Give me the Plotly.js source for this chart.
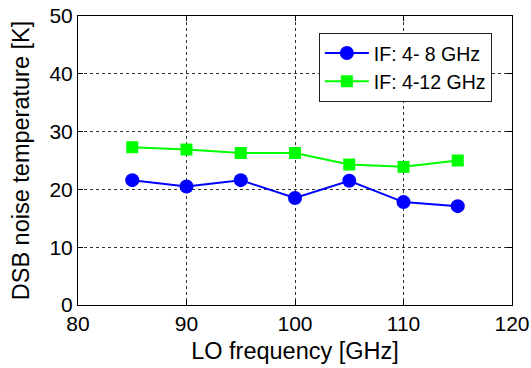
<!DOCTYPE html>
<html>
<head>
<meta charset="utf-8">
<script src="https://cdn.plot.ly/plotly-3.0.1.min.js"></script>
<style>html,body{margin:0;padding:0;background:#fff;}#chart{width:531px;height:368px;}</style>
</head>
<body>
<div id="chart"></div>
<script>
const loFreq = [85, 90, 95, 100, 105, 110, 115];
const tIF4to8 = [21.6, 20.5, 21.6, 18.5, 21.5, 17.8, 17.1];
const tIF4to12 = [27.3, 26.9, 26.3, 26.3, 24.3, 23.9, 25.0];
const seriesNames = ['IF: 4- 8 GHz', 'IF: 4-12 GHz'];
const xTicks = [80, 90, 100, 110, 120];
const yTicks = [0, 10, 20, 30, 40, 50];

const font = 'Liberation Sans, Arial, sans-serif';
const traces = [
  {x: loFreq, y: tIF4to8, name: seriesNames[0], type: 'scatter', mode: 'lines+markers',
   line: {color: '#0000ff', width: 2}, marker: {symbol: 'circle', size: 14, color: '#0000ff'}},
  {x: loFreq, y: tIF4to12, name: seriesNames[1], type: 'scatter', mode: 'lines+markers',
   line: {color: '#00ff00', width: 2}, marker: {symbol: 'square', size: 12, color: '#00ff00'}}
];
const axisCommon = {
  showline: true, linecolor: '#000', linewidth: 1, mirror: 'ticks',
  ticks: 'inside', ticklen: 5, tickcolor: '#000',
  showgrid: true, gridcolor: '#333', griddash: 'dot', gridwidth: 1,
  zeroline: false, tickfont: {family: font, size: 21, color: '#000'}
};
const layout = {
  width: 531, height: 368,
  margin: {l: 78, r: 19, t: 16, b: 63},
  paper_bgcolor: '#fff', plot_bgcolor: '#fff',
  font: {family: font, color: '#000'},
  xaxis: Object.assign({}, axisCommon, {
    range: [80, 120], tickvals: xTicks, ticktext: xTicks.map(String),
    title: {text: 'LO frequency [GHz]', font: {family: font, size: 23.5}, standoff: 8}
  }),
  yaxis: Object.assign({}, axisCommon, {
    range: [0, 50], tickvals: yTicks, ticktext: yTicks.map(String),
    title: {text: 'DSB noise temperature [K]', font: {family: font, size: 23.5}, standoff: 13}
  }),
  showlegend: true,
  legend: {x: 0.555, y: 0.942, xanchor: 'left', yanchor: 'top',
    bgcolor: '#fff', bordercolor: '#222', borderwidth: 1, itemwidth: 44,
    font: {family: font, size: 19.5, color: '#000'}, tracegroupgap: 0}
};
Plotly.newPlot('chart', traces, layout, {displayModeBar: false, staticPlot: true});
</script>
</body>
</html>
